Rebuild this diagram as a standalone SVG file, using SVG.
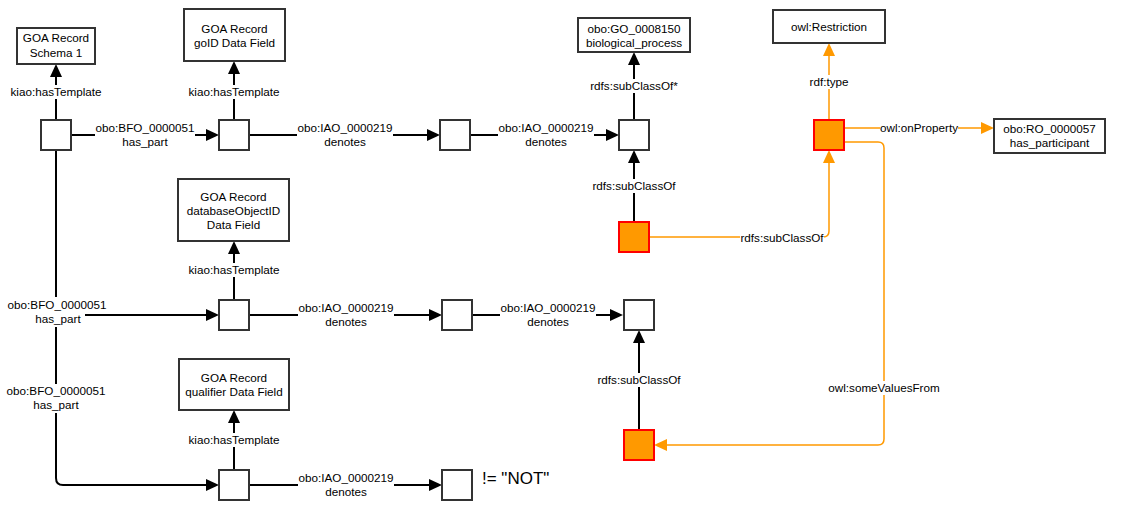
<svg xmlns="http://www.w3.org/2000/svg" width="1124" height="520" viewBox="0 0 1124 520">
<style>
.sq{fill:#fff;stroke:#333;stroke-width:2}
.osq{fill:#FF9900;stroke:#FF0000;stroke-width:2}
.box{fill:#fff;stroke:#333;stroke-width:2}
.t{font-family:"Liberation Sans",Arial,sans-serif;font-size:11.7px;text-anchor:middle;fill:#000}
.big{font-family:"Liberation Sans",Arial,sans-serif;font-size:17px;fill:#000}
.e{fill:none;stroke:#000;stroke-width:2;marker-end:url(#ab)}
.o{fill:none;stroke:#FF9900;stroke-width:1.5;marker-end:url(#ao)}
.bg{fill:#fff}
</style>
<defs>
<marker id="ab" viewBox="0 0 13 12" refX="1" refY="6" markerWidth="13" markerHeight="12" markerUnits="userSpaceOnUse" orient="auto"><path d="M0,0 L13,6 L0,12 Z" fill="#000"/></marker>
<marker id="ao" viewBox="0 0 13 12" refX="1" refY="6" markerWidth="13" markerHeight="12" markerUnits="userSpaceOnUse" orient="auto"><path d="M0,0 L13,6 L0,12 Z" fill="#FF9900"/></marker>
</defs>
<rect width="1124" height="520" fill="#fff"/>
<g id="connectors">
<path class="e" d="M56,120 V76"/>
<path class="e" d="M234,120 V73"/>
<path class="e" d="M71,135 H207"/>
<path class="e" d="M249,135 H428"/>
<path class="e" d="M470,135 H607"/>
<path class="e" d="M634,120 V64"/>
<path class="e" d="M634,222 V162"/>
<path class="e" d="M56,150 V309 Q56,315 62,315 H207"/>
<path class="e" d="M56,150 V478 Q56,485 63,485 H207"/>
<path class="e" d="M234,300 V253"/>
<path class="e" d="M249,315 H430"/>
<path class="e" d="M472,315 H611"/>
<path class="e" d="M639,430 V342"/>
<path class="e" d="M234,470 V422"/>
<path class="e" d="M249,485 H430"/>
<path class="o" d="M829,120 V55"/>
<path class="o" d="M844,128 H982"/>
<path class="o" d="M649,237 H823 Q829,237 829,231 V162"/>
<path class="o" d="M844,142 H878 Q884,142 884,148 V439 Q884,445 878,445 H666"/>
<g id="labels">
<rect class="bg" x="9" y="85" width="94" height="14"/><text class="t" x="56" y="96">kiao:hasTemplate</text>
<rect class="bg" x="187" y="85" width="94" height="14"/><text class="t" x="234" y="96">kiao:hasTemplate</text>
<rect class="bg" x="95" y="122" width="100" height="28"/><text class="t" x="145" y="132">obo:BFO_0000051</text><text class="t" x="145" y="146">has_part</text>
<rect class="bg" x="297" y="122" width="96" height="28"/><text class="t" x="345" y="132">obo:IAO_0000219</text><text class="t" x="345" y="146">denotes</text>
<rect class="bg" x="498" y="122" width="96" height="28"/><text class="t" x="546" y="132">obo:IAO_0000219</text><text class="t" x="546" y="146">denotes</text>
<rect class="bg" x="590" y="79" width="88" height="14"/><text class="t" x="634" y="90">rdfs:subClassOf*</text>
<rect class="bg" x="809" y="75" width="40" height="14"/><text class="t" x="829" y="86">rdf:type</text>
<rect class="bg" x="880" y="121" width="78" height="14"/><text class="t" x="919" y="132">owl:onProperty</text>
<rect class="bg" x="592" y="179" width="84" height="14"/><text class="t" x="634" y="190">rdfs:subClassOf</text>
<rect class="bg" x="740" y="231" width="84" height="14"/><text class="t" x="782" y="242">rdfs:subClassOf</text>
<rect class="bg" x="187" y="263" width="94" height="14"/><text class="t" x="234" y="274">kiao:hasTemplate</text>
<rect class="bg" x="6" y="297" width="100" height="14"/><rect class="bg" x="33" y="311" width="52" height="16"/><text class="t" x="57" y="309">obo:BFO_0000051</text><text class="t" x="58" y="323">has_part</text>
<rect class="bg" x="298" y="302" width="96" height="28"/><text class="t" x="346" y="312">obo:IAO_0000219</text><text class="t" x="346" y="326">denotes</text>
<rect class="bg" x="500" y="302" width="96" height="28"/><text class="t" x="548" y="312">obo:IAO_0000219</text><text class="t" x="548" y="326">denotes</text>
<rect class="bg" x="828" y="381" width="113" height="14"/><text class="t" x="884" y="392">owl:someValuesFrom</text>
<rect class="bg" x="597" y="373" width="84" height="14"/><text class="t" x="639" y="384">rdfs:subClassOf</text>
<rect class="bg" x="6" y="384" width="100" height="29"/><text class="t" x="56" y="395">obo:BFO_0000051</text><text class="t" x="56" y="409">has_part</text>
<rect class="bg" x="187" y="433" width="94" height="14"/><text class="t" x="234" y="444">kiao:hasTemplate</text>
<rect class="bg" x="298" y="472" width="96" height="28"/><text class="t" x="346" y="482">obo:IAO_0000219</text><text class="t" x="346" y="496">denotes</text>
</g>
</g>
<g id="schema1"><rect class="box" x="17" y="28" width="78" height="36"/><text class="t" x="56" y="42">GOA Record</text><text class="t" x="56" y="57">Schema 1</text></g>
<g id="goid-field"><rect class="box" x="184" y="9" width="101" height="52"/><text class="t" x="234.5" y="33">GOA Record</text><text class="t" x="234.5" y="47">goID Data Field</text></g>
<g id="go-bp"><rect class="box" x="578" y="18" width="112" height="34"/><text class="t" x="634" y="33">obo:GO_0008150</text><text class="t" x="634" y="47">biological_process</text></g>
<g id="owl-restriction"><rect class="box" x="773" y="10" width="112" height="33"/><text class="t" x="829" y="31">owl:Restriction</text></g>
<g id="ro-participant"><rect class="box" x="994" y="119" width="111" height="34"/><text class="t" x="1049.5" y="133">obo:RO_0000057</text><text class="t" x="1049.5" y="147">has_participant</text></g>
<g id="dbobj-field"><rect class="box" x="178" y="179" width="111" height="62"/><text class="t" x="233.5" y="201">GOA Record</text><text class="t" x="233.5" y="215">databaseObjectID</text><text class="t" x="233.5" y="229">Data Field</text></g>
<g id="qualifier-field"><rect class="box" x="179" y="359" width="110" height="51"/><text class="t" x="234" y="382">GOA Record</text><text class="t" x="234" y="396">qualifier Data Field</text></g>
<g id="sq1"><rect class="sq" x="41" y="120" width="30" height="30"/></g>
<g id="sq2"><rect class="sq" x="219" y="120" width="30" height="30"/></g>
<g id="sq3"><rect class="sq" x="440" y="120" width="30" height="30"/></g>
<g id="sq4"><rect class="sq" x="619" y="120" width="30" height="30"/></g>
<g id="orange-restriction"><rect class="osq" x="814" y="120" width="30" height="30"/></g>
<g id="orange-mid"><rect class="osq" x="619" y="222" width="30" height="30"/></g>
<g id="sq5"><rect class="sq" x="219" y="300" width="30" height="30"/></g>
<g id="sq6"><rect class="sq" x="442" y="300" width="30" height="30"/></g>
<g id="sq9"><rect class="sq" x="624" y="300" width="30" height="30"/></g>
<g id="orange-bottom"><rect class="osq" x="624" y="430" width="30" height="30"/></g>
<g id="sq7"><rect class="sq" x="219" y="470" width="30" height="30"/></g>
<g id="sq8"><rect class="sq" x="442" y="470" width="30" height="30"/><text class="big" x="482" y="484">!= "NOT"</text></g>
</svg>
